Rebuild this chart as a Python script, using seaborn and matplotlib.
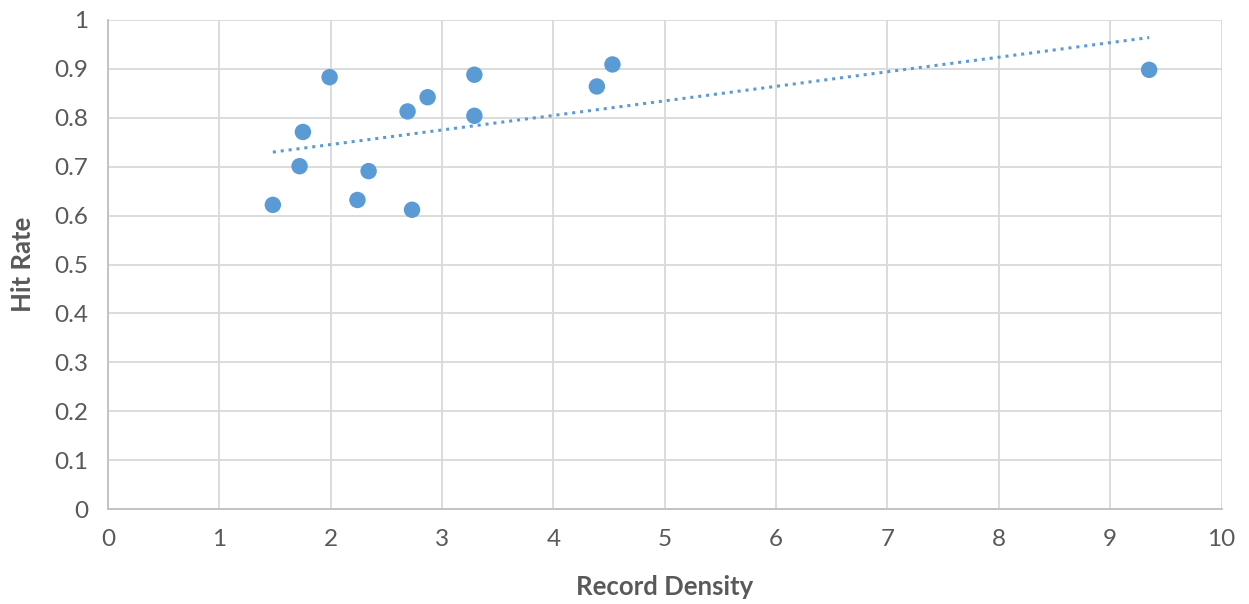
import numpy as np
import pandas as pd
import seaborn as sns
import matplotlib.pyplot as plt

# values
record_density = [1.48, 1.72, 1.75, 1.99, 2.24, 2.34, 2.69, 2.73, 2.87, 3.29, 3.29, 4.39, 4.53, 9.35]
hit_rate = [0.622, 0.701, 0.771, 0.883, 0.632, 0.691, 0.813, 0.612, 0.842, 0.888, 0.804, 0.864, 0.909, 0.898]
x_ticks = [0, 1, 2, 3, 4, 5, 6, 7, 8, 9, 10]
y_ticks = [0, 0.1, 0.2, 0.3, 0.4, 0.5, 0.6, 0.7, 0.8, 0.9, 1]
y_tick_labels = ['0', '0.1', '0.2', '0.3', '0.4', '0.5', '0.6', '0.7', '0.8', '0.9', '1']

df = pd.DataFrame({'Record Density': record_density, 'Hit Rate': hit_rate})

sns.set_style('white')
plt.rcParams['font.family'] = ['Lato', 'DejaVu Sans']

blue = '#5B9BD5'
grey_txt = '#595959'
grid_c = '#D9D9D9'

fig = plt.figure(figsize=(12.49, 6.04), dpi=100)
ax = fig.add_axes([0.0865, 0.157, 0.8915, 0.81])

# linear trendline over the data range
slope, intercept = np.polyfit(df['Record Density'], df['Hit Rate'], 1)
xs = np.array([df['Record Density'].min(), df['Record Density'].max()])
ax.plot(xs, slope * xs + intercept, color=blue, lw=2.2, linestyle=(0, (1, 1.6)), zorder=2)

sns.scatterplot(data=df, x='Record Density', y='Hit Rate', ax=ax, color=blue,
                s=140, edgecolor='none', zorder=3)

ax.set_xlim(0, 10)
ax.set_ylim(0, 1)
ax.set_xticks(x_ticks)
ax.set_yticks(y_ticks)
ax.set_yticklabels(y_tick_labels)
ax.grid(True, color=grid_c, lw=1.3)
ax.set_axisbelow(True)

for side in ['top', 'right']:
    ax.spines[side].set_visible(False)
for side in ['left', 'bottom']:
    ax.spines[side].set_color('#BFBFBF')
    ax.spines[side].set_linewidth(1.3)

ax.tick_params(axis='both', which='both', length=6, width=1.3, color='#BFBFBF',
               labelsize=17.5, labelcolor=grey_txt, direction='out', pad=8)
ax.set_xlabel('Record Density', fontsize=18.5, fontweight='bold', color=grey_txt, labelpad=18)
ax.set_ylabel('Hit Rate', fontsize=18.5, fontweight='bold', color=grey_txt, labelpad=14)

fig.savefig('out.png', dpi=100)
